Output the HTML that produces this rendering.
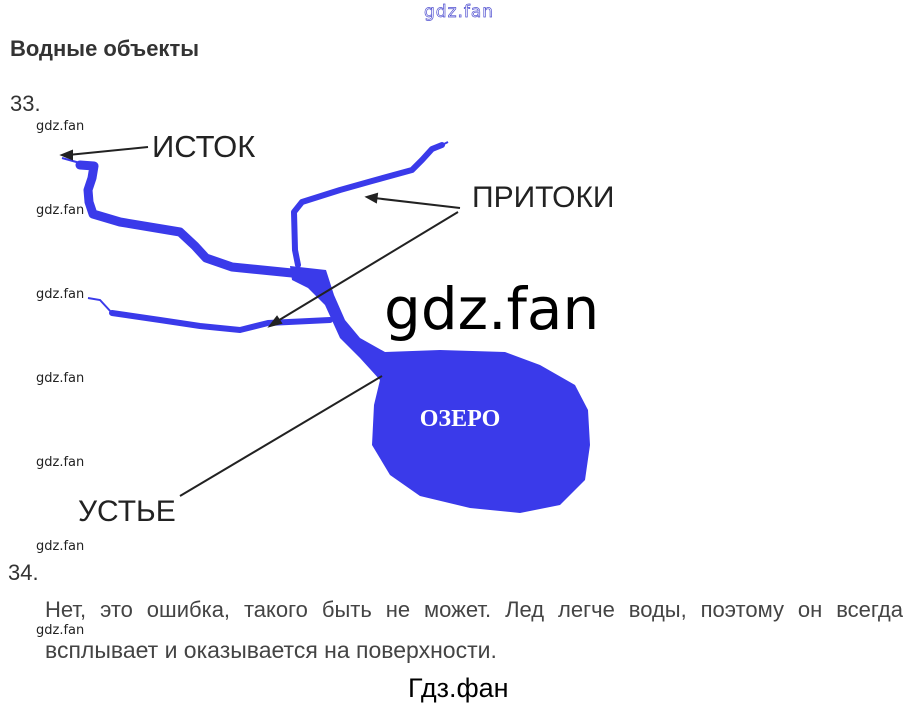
<!DOCTYPE html>
<html><head><meta charset="utf-8">
<style>
html,body{margin:0;padding:0;background:#fff;}
body{width:916px;height:709px;position:relative;overflow:hidden;font-family:"Liberation Sans","Noto Sans CJK SC",sans-serif;}
.t{position:absolute;white-space:nowrap;}
.wm{position:absolute;left:36px;font-size:13px;color:#222;font-family:"DejaVu Sans","Liberation Sans",sans-serif;}
</style></head><body>
<div class="t" style="left:424px;top:2px;font-size:17px;color:#fff;-webkit-text-stroke:0.7px #5050d0;font-family:'DejaVu Sans',sans-serif;letter-spacing:1px;">gdz.fan</div>
<div class="t" style="left:10px;top:36px;font-size:22px;font-weight:bold;color:#333;">Водные объекты</div>
<div class="t" style="left:10px;top:91px;font-size:22px;color:#333;">33.</div>
<div class="wm" style="top:119px">gdz.fan</div>
<div class="wm" style="top:203px">gdz.fan</div>
<div class="wm" style="top:287px">gdz.fan</div>
<div class="wm" style="top:371px">gdz.fan</div>
<div class="wm" style="top:455px">gdz.fan</div>
<div class="wm" style="top:539px">gdz.fan</div>
<div class="wm" style="top:623px">gdz.fan</div>

<svg width="916" height="709" style="position:absolute;left:0;top:0" xmlns="http://www.w3.org/2000/svg">
 <g fill="none" stroke="#3a3aea" stroke-linejoin="round" stroke-linecap="round">
  <polyline points="80,165 94,166 92,178 88,190 89,202 93,214 120,222 180,232 195,246 206,258 232,267 292,273" stroke-width="9"/>
  <polyline points="442,145 432,149 422,160 412,170 372,181 340,190 302,202 294,212 295,250 298,265" stroke-width="6"/>
  <polyline points="112,313 160,320 200,326 240,330 268,323 330,320" stroke-width="6"/>
 </g>
 <g fill="none" stroke="#3a3aea" stroke-width="2">
  <polyline points="62,158 80,163"/>
  <polyline points="88,298 100,300 112,313"/>
  <polyline points="442,145 448,142"/>
 </g>
 <path fill="#3a3aea" d="M290,266 L326,270 L334,295 L345,320 L360,338 L385,352 L440,350 L505,352 L540,365 L575,385 L588,410 L590,445 L585,480 L560,505 L520,513 L470,508 L420,496 L390,475 L372,445 L374,405 L380,380 L360,358 L340,338 L325,305 L308,288 L292,280 Z"/>
 <text x="460" y="426" text-anchor="middle" font-family="Liberation Serif,serif" font-weight="bold" font-size="24" fill="#fff">ОЗЕРО</text>
 <g stroke="#222" stroke-width="2" fill="#222">
  <line x1="148" y1="147" x2="68" y2="155"/>
  <polygon points="62,155 72,151 72,159"/>
  <line x1="460" y1="208" x2="374" y2="198"/>
  <polygon points="367,197 377,194 376,202"/>
  <line x1="458" y1="212" x2="276" y2="322"/>
  <polygon points="270,326 277,317 281,323"/>
  <line x1="180" y1="496" x2="382" y2="376"/>
 </g>
</svg>

<div class="t" style="left:152px;top:129px;font-size:31px;color:#222;">ИСТОК</div>
<div class="t" style="left:472px;top:181px;font-size:30px;color:#222;">ПРИТОКИ</div>
<div class="t" style="left:78px;top:495px;font-size:30px;color:#222;">УСТЬЕ</div>
<div class="t" style="left:384px;top:275px;font-size:58px;color:#000;font-family:'DejaVu Sans',sans-serif;">gdz.fan</div>

<div class="t" style="left:8px;top:560px;font-size:22px;color:#333;">34.</div>
<div class="t" style="left:45px;top:597px;width:858px;font-size:22px;color:#444;text-align:justify;text-align-last:justify;white-space:normal;">Нет, это ошибка, такого быть не может. Лед легче воды, поэтому он всегда</div>
<div class="t" style="left:45px;top:637px;font-size:23px;color:#444;">всплывает и оказывается на поверхности.</div>
<div class="t" style="left:408px;top:673px;font-size:27px;color:#000;">Гдз.фан</div>
</body></html>
